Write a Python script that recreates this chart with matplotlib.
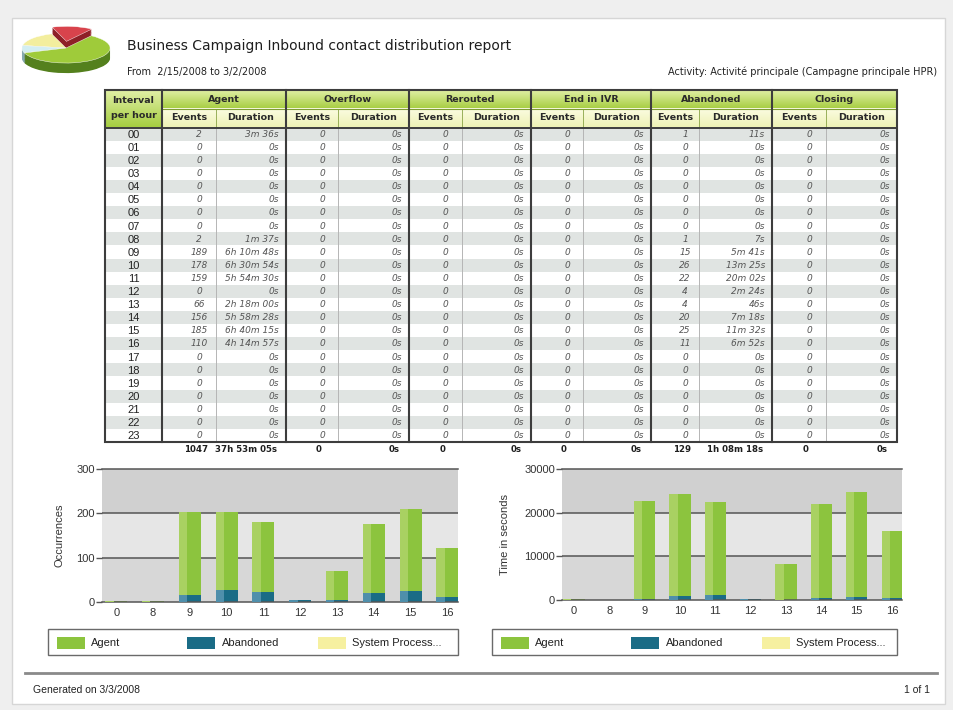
import numpy as np
import matplotlib
matplotlib.use("Agg")
from matplotlib import pyplot as plt
from matplotlib.colors import to_rgb
from matplotlib.patches import Rectangle, Wedge

# ---------------- report data ----------------
interval_labels = ["00", "01", "02", "03", "04", "05", "06", "07", "08", "09", "10", "11",
                   "12", "13", "14", "15", "16", "17", "18", "19", "20", "21", "22", "23"]

agent_events = [2, 0, 0, 0, 0, 0, 0, 0, 2, 189, 178, 159, 0, 66, 156, 185, 110, 0, 0, 0, 0, 0, 0, 0]
agent_durations = ["3m 36s", "0s", "0s", "0s", "0s", "0s", "0s", "0s", "1m 37s", "6h 10m 48s",
                   "6h 30m 54s", "5h 54m 30s", "0s", "2h 18m 00s", "5h 58m 28s", "6h 40m 15s",
                   "4h 14m 57s", "0s", "0s", "0s", "0s", "0s", "0s", "0s"]
abandoned_events = [1, 0, 0, 0, 0, 0, 0, 0, 1, 15, 26, 22, 4, 4, 20, 25, 11, 0, 0, 0, 0, 0, 0, 0]
abandoned_durations = ["11s", "0s", "0s", "0s", "0s", "0s", "0s", "0s", "7s", "5m 41s",
                       "13m 25s", "20m 02s", "2m 24s", "46s", "7m 18s", "11m 32s",
                       "6m 52s", "0s", "0s", "0s", "0s", "0s", "0s", "0s"]
empty_events = [0] * 24          # Overflow, Rerouted, End in IVR and Closing are all empty
empty_durations = ["0s"] * 24

group_names = ["Agent", "Overflow", "Rerouted", "End in IVR", "Abandoned", "Closing"]
group_events = [agent_events, empty_events, empty_events, empty_events, abandoned_events, empty_events]
group_durations = [agent_durations, empty_durations, empty_durations, empty_durations,
                   abandoned_durations, empty_durations]

# hours that appear in the two charts (rows of the table)
chart_labels = ["0", "8", "9", "10", "11", "12", "13", "14", "15", "16"]
chart_rows = [0, 8, 9, 10, 11, 12, 13, 14, 15, 16]
system_process = [0, 0, 0, 0, 0, 0, 0, 0, 0, 0]

# decorative pie in the report header: red, yellow, light blue, green
icon_shares = [15, 17, 8, 60]

GREEN, GREEN_HI = "#8cc43e", "#a9d162"
TEAL, TEAL_HI = "#1a6c86", "#4f8fab"
YELLOW = "#f6f0a0"
W, H = 954, 710


def to_seconds(text):
    """ '6h 10m 48s' -> seconds """
    units = {"h": 3600, "m": 60, "s": 1}
    return sum(int(p[:-1]) * units[p[-1]] for p in text.split())


def fmt_duration(sec):
    h, rest = divmod(sec, 3600)
    m, s = divmod(rest, 60)
    if h:
        return f"{h}h {m:02d}m {s:02d}s"
    if m:
        return f"{m}m {s:02d}s"
    return f"{s}s"


fig = plt.figure(figsize=(W / 100, H / 100), dpi=100)
fig.patch.set_facecolor("#efefef")

# page axes works in pixel coordinates, y pointing down
page = fig.add_axes([0, 0, 1, 1])
page.axis("off")


def px_axes(x0, y0, x1, y1):
    return fig.add_axes([x0 / W, 1 - y1 / H, (x1 - x0) / W, (y1 - y0) / H])


def gradient(x0, x1, y0, y1, top, bottom):
    t = np.linspace(0, 1, 32)[:, None, None]
    img = np.array(to_rgb(top)) * (1 - t) + np.array(to_rgb(bottom)) * t
    page.imshow(img, extent=(x0, x1, y1, y0), aspect="auto", interpolation="bilinear", zorder=1)


page.add_patch(Rectangle((12, 18), 933, 686, facecolor="white", edgecolor="#d6d6d6", lw=1, zorder=0))

# ---- header texts ----
page.text(127, 46, "Business Campaign Inbound contact distribution report", fontsize=10,
          color="#1e1e1e", va="center")
page.text(127, 72, "From  2/15/2008 to 3/2/2008", fontsize=7, color="#222", va="center")
page.text(937, 72, "Activity: Activité principale (Campagne principale HPR)", fontsize=7,
          color="#222", va="center", ha="right")

# ---- pie icon (flattened ellipse with a dark side) ----
icon = px_axes(18, 20, 114, 80)
icon.set_xlim(-1.09, 1.09)
icon.set_ylim(-2.13, 1.87)
icon.axis("off")
icon_tops = ["#d8434c", "#f3ee9e", "#d3eef2", "#9fcb3a"]
icon_sides = ["#8e2027", "#aaa35a", "#86a9b0", "#54801d"]
start = 55
for i, share in enumerate(icon_shares):
    t1, t2 = start, start + share / 100 * 360
    start = t2
    mid = np.deg2rad((t1 + t2) / 2)
    ox, oy = (0.08 * np.cos(mid), 0.45 * np.sin(mid)) if i == 0 else (0.0, 0.0)
    for dy in np.linspace(-0.67, 0, 14)[:-1]:
        icon.add_patch(Wedge((ox, oy + dy), 1, t1, t2, color=icon_sides[i], lw=0))
    icon.add_patch(Wedge((ox, oy), 1, t1, t2, facecolor=icon_tops[i], edgecolor="white", lw=0.3))

# ---- table ----
col_edges = [105, 162, 216, 286, 338, 409, 462, 531, 583, 651, 699, 772, 826, 897]
HEAD_TOP, HEAD_MID, HEAD_BOT = 90, 109, 127.5
ROW_H = 13.1
table_bottom = HEAD_BOT + len(interval_labels) * ROW_H
DARK = "#3d3d3d"

gradient(col_edges[0], col_edges[1], HEAD_TOP, HEAD_BOT, "#e2f0a8", "#a6ce42")
gradient(col_edges[1], col_edges[-1], HEAD_TOP, HEAD_MID, "#e0efa4", "#a6cd40")
gradient(col_edges[1], col_edges[-1], HEAD_MID, HEAD_BOT, "#fbfce2", "#eef2b6")

for i in range(0, len(interval_labels), 2):
    page.add_patch(Rectangle((col_edges[0], HEAD_BOT + i * ROW_H), col_edges[-1] - col_edges[0],
                             ROW_H, color="#e0e4e2", lw=0, zorder=1))

# thin lines between Events and Duration
for x in col_edges[2:-1:2]:
    page.plot([x, x], [HEAD_MID, HEAD_BOT], color="#8aa446", lw=0.6, zorder=2)
    page.plot([x, x], [HEAD_BOT, table_bottom], color="#b5b5b5", lw=0.7, zorder=2)
# thick lines between groups
for x in col_edges[1:-1:2]:
    page.plot([x, x], [HEAD_TOP, table_bottom], color=DARK, lw=1.5, zorder=3)
page.plot([col_edges[1], col_edges[-1]], [HEAD_MID, HEAD_MID], color="#7d9c34", lw=0.8, zorder=2)
page.plot([col_edges[0], col_edges[-1]], [HEAD_BOT, HEAD_BOT], color=DARK, lw=1.4, zorder=3)
page.add_patch(Rectangle((col_edges[0], HEAD_TOP), col_edges[-1] - col_edges[0],
                         table_bottom - HEAD_TOP, fill=False, edgecolor=DARK, lw=1.5, zorder=3))

head_kw = dict(fontsize=6.8, fontweight="bold", color="#2a2a2a", ha="center", va="center", zorder=4)
mid_first = (col_edges[0] + col_edges[1]) / 2
page.text(mid_first, 100.5, "Interval", **head_kw)
page.text(mid_first, 116, "per hour", **head_kw)

cell_kw = dict(fontsize=6.5, style="italic", color="#555555", va="center", zorder=4)
total_kw = dict(fontsize=6.2, fontweight="bold", color="#1e1e1e", va="center", zorder=4)
for g, name in enumerate(group_names):
    ex0, ex1, dx1 = col_edges[1 + 2 * g], col_edges[2 + 2 * g], col_edges[3 + 2 * g]
    page.text((ex0 + dx1) / 2, 99.5, name, **head_kw)
    page.text((ex0 + ex1) / 2, 118, "Events", **head_kw)
    page.text((ex1 + dx1) / 2, 118, "Duration", **head_kw)
    for r in range(len(interval_labels)):
        y = HEAD_BOT + (r + 0.5) * ROW_H + 0.3
        page.text((ex0 + ex1) / 2 + 10, y, str(group_events[g][r]), ha="center", **cell_kw)
        page.text(dx1 - 7, y, group_durations[g][r], ha="right", **cell_kw)
    total_sec = sum(to_seconds(d) for d in group_durations[g])
    page.text((ex0 + ex1) / 2 + 7, 449, str(sum(group_events[g])), ha="center", **total_kw)
    page.text(dx1 - 9, 449, fmt_duration(total_sec), ha="right", **total_kw)

for r, lab in enumerate(interval_labels):
    page.text(mid_first, HEAD_BOT + (r + 0.5) * ROW_H + 0.8, lab, fontsize=8,
              family="Liberation Sans", color="#222", ha="center", va="center", zorder=4)

# ---- charts ----
x = np.arange(len(chart_labels))
bar_w = 0.6
tick_font = dict(family="Liberation Sans", size=8)

occ_agent = np.array([agent_events[r] for r in chart_rows])
occ_aband = np.array([abandoned_events[r] for r in chart_rows])
sec_agent = np.array([to_seconds(agent_durations[r]) for r in chart_rows])
sec_aband = np.array([to_seconds(abandoned_durations[r]) for r in chart_rows])


def draw_chart(ax, agent, aband, step, ylabel, label_x, xlim):
    for i, c in enumerate(["#d7d7d7", "#e6e6e6", "#d0d0d0"]):
        ax.axhspan(i * step, (i + 1) * step, color=c, lw=0, zorder=0)
    for v in (step, 2 * step):
        ax.axhline(v, color="#555555", lw=1.1, zorder=1)
    ax.bar(x, aband, bar_w, color=TEAL, zorder=2)
    ax.bar(x, agent, bar_w, bottom=aband, color=GREEN, zorder=2)
    ax.bar(x, system_process, bar_w, bottom=aband + agent, color=YELLOW, zorder=2)
    # lighter left part gives the bars their glossy look
    hi_w = bar_w * 0.38
    ax.bar(x - bar_w / 2 + hi_w / 2, aband, hi_w, color=TEAL_HI, zorder=3)
    ax.bar(x - bar_w / 2 + hi_w / 2, agent, hi_w, bottom=aband, color=GREEN_HI, zorder=3)
    ax.set_xlim(*xlim)
    ax.set_ylim(0, 3 * step)
    ax.set_yticks([0, step, 2 * step, 3 * step])
    ax.set_xticks(x, chart_labels)
    for s in ("left", "right"):
        ax.spines[s].set_visible(False)
    for s in ("top", "bottom"):
        ax.spines[s].set_color("#555555")
        ax.spines[s].set_linewidth(1.1)
    ax.tick_params(axis="x", length=0, pad=4, labelcolor="#333")
    ax.tick_params(axis="y", length=4, width=1, color="#555555", pad=1, labelcolor="#333")
    for lab in ax.get_xticklabels() + ax.get_yticklabels():
        lab.set_fontfamily("Liberation Sans")
        lab.set_fontsize(8)
    ax.set_ylabel(ylabel, fontdict=tick_font, color="#333")
    ax.yaxis.set_label_coords(label_x, 0.5)


ax1 = px_axes(102, 469, 458, 602)
draw_chart(ax1, occ_agent, occ_aband, 100, "Occurrences", -0.105, (-0.39, 9.29))
ax2 = px_axes(562, 469, 902, 600)
draw_chart(ax2, sec_agent, sec_aband, 10000, "Time in seconds", -0.153, (-0.34, 9.28))

# ---- legends ----
legend_items = [("Agent", GREEN), ("Abandoned", TEAL), ("System Process...", YELLOW)]
for bx0, bx1 in [(48, 458), (492, 897)]:
    page.add_patch(Rectangle((bx0, 629), bx1 - bx0, 26, facecolor="white", edgecolor="#6a6a6a",
                             lw=1, zorder=2))
    for i, (name, color) in enumerate(legend_items):
        sx = bx0 + 9 + i * 130.5
        page.add_patch(Rectangle((sx, 637), 28, 11.5, color=color, lw=0, zorder=3))
        page.text(sx + 34, 642.5, name, fontsize=8, family="Liberation Sans", color="#222",
                  va="center", zorder=3)

# ---- footer ----
page.plot([25, 937], [673, 673], color="#8a8a8a", lw=2, zorder=2)
page.text(33, 690, "Generated on 3/3/2008", fontsize=7.5, family="Liberation Sans",
          color="#222", va="center")
page.text(930, 690, "1 of 1", fontsize=7.5, family="Liberation Sans", color="#222",
          va="center", ha="right")

page.set_xlim(0, W)
page.set_ylim(H, 0)
fig.savefig("out.png", dpi=100, facecolor=fig.get_facecolor())
